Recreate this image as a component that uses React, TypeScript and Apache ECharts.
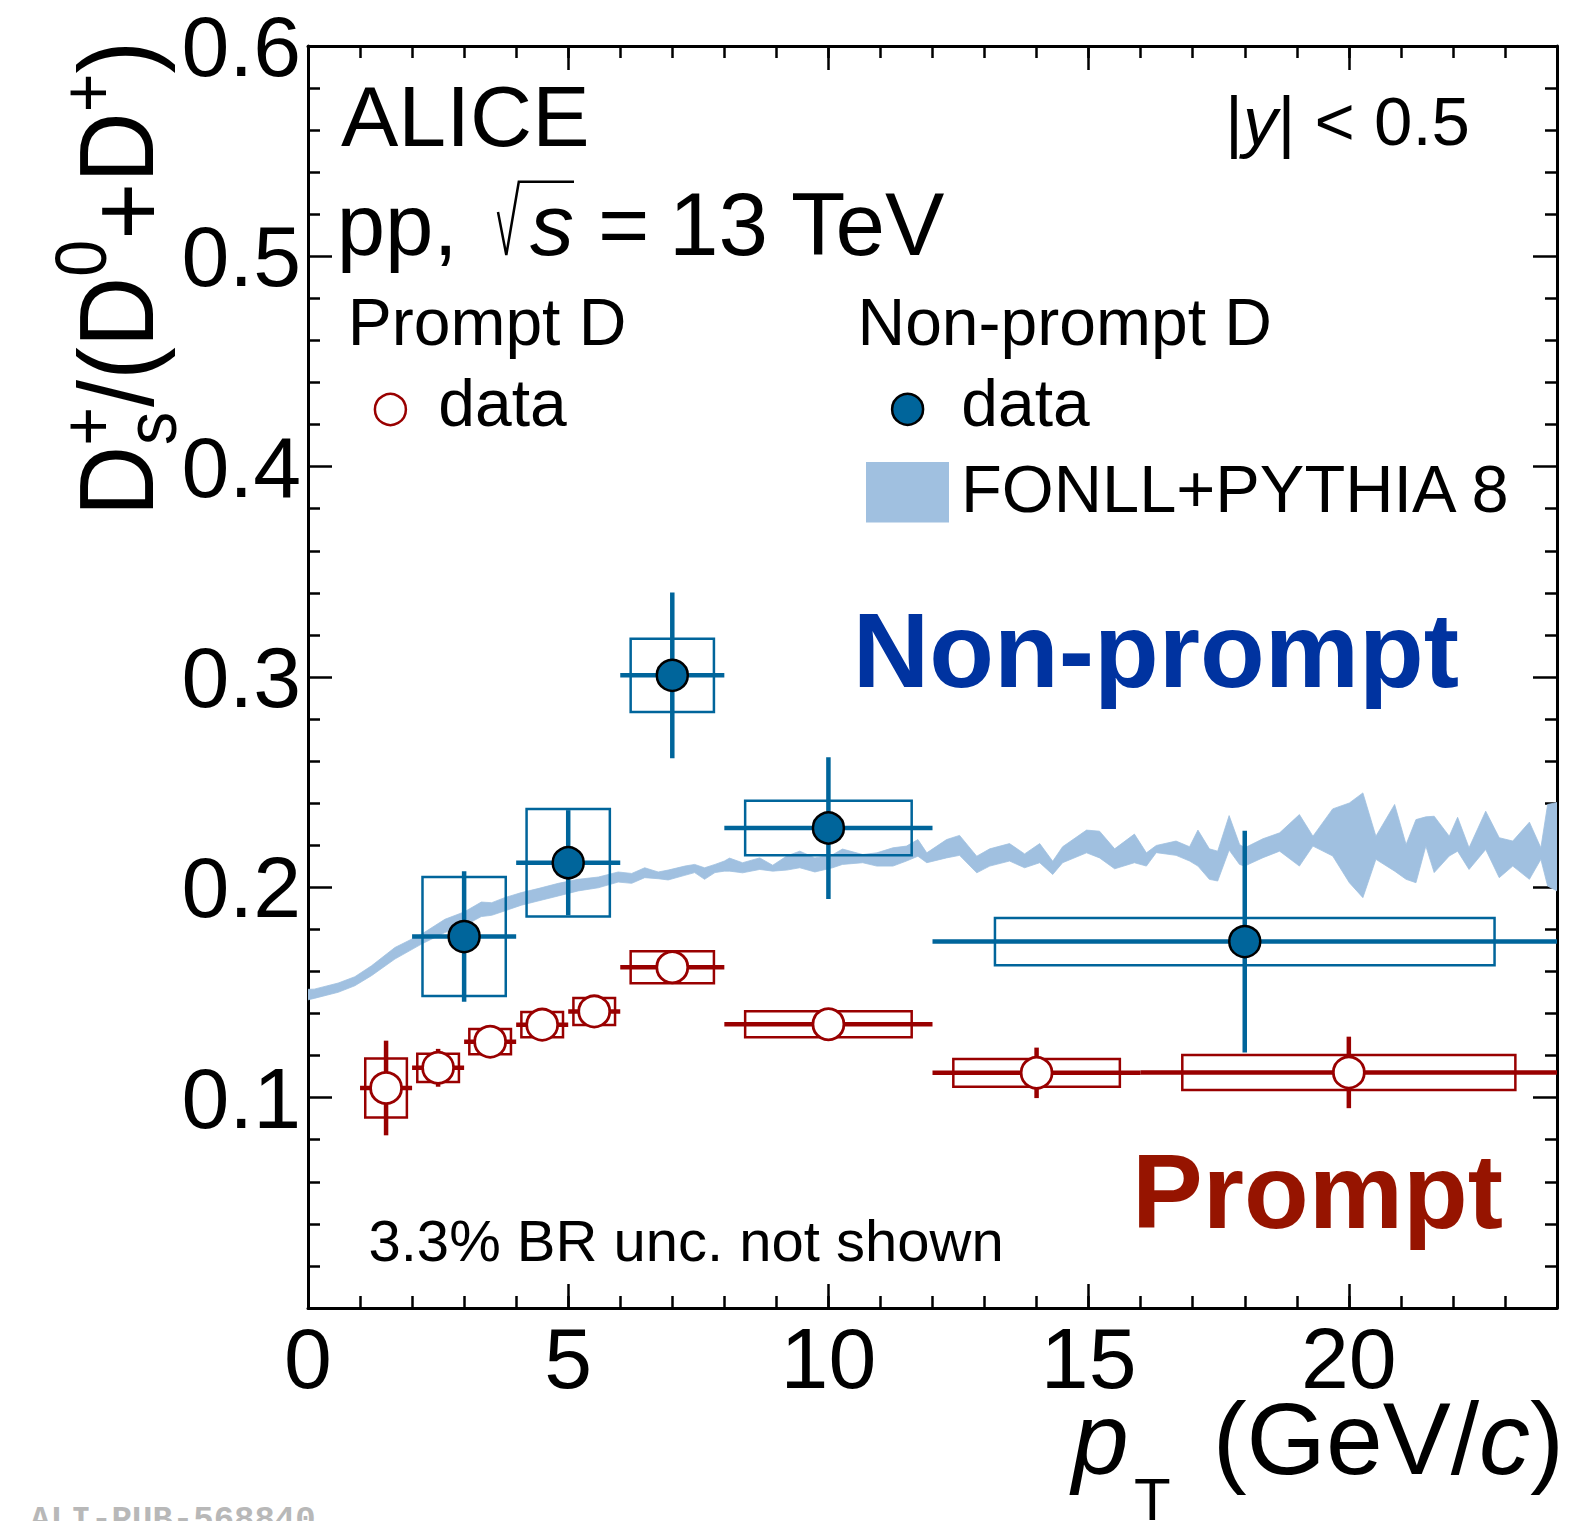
import React, { useEffect, useRef } from "react";
import * as echarts from "echarts";

const W = 1582;
const H = 1521;
const FONT = "'Liberation Sans', Arial, Helvetica, sans-serif";
const RED = "#990000";
const BLUE = "#00659b";
const BAND = "#a0c0e0";
const NP_TEXT = "#0033a0";
const P_TEXT = "#961400";

// ---- Prompt D data ----
const promptX = [1.5, 2.5, 3.5, 4.5, 5.5, 7, 10, 14, 20];
const promptXLow = [1, 2, 3, 4, 5, 6, 8, 12, 16];
const promptXHigh = [2, 3, 4, 5, 6, 8, 12, 16, 24];
const promptY = [0.1046, 0.1142, 0.1266, 0.1347, 0.141, 0.162, 0.1349, 0.1118, 0.112];
const promptStat = [0.0225, 0.009, 0.005, 0.005, 0.005, 0.005, 0.005, 0.012, 0.017];
const promptSyst = [0.014, 0.0067, 0.006, 0.006, 0.0064, 0.0076, 0.0062, 0.0066, 0.0083];

// ---- Non-prompt D data ----
const nonPromptX = [3, 5, 7, 10, 18];
const nonPromptXLow = [2, 4, 6, 8, 12];
const nonPromptXHigh = [4, 6, 8, 12, 24];
const nonPromptY = [0.1766, 0.2117, 0.3008, 0.2282, 0.1742];
const nonPromptStat = [0.031, 0.025, 0.0394, 0.0337, 0.0527];
const nonPromptSyst = [0.0283, 0.0256, 0.0174, 0.013, 0.0112];

// ---- FONLL+PYTHIA 8 band ----
const bandX = [0, 0.12, 0.58, 0.9, 1.22, 1.67, 2.18, 2.63, 3.0, 3.33, 3.53, 3.78, 4.1, 4.42, 4.81, 5.19, 5.58, 5.96, 6.22, 6.47, 6.73, 6.92, 7.24, 7.43, 7.62, 7.82, 8.0, 8.1, 8.35, 8.68, 8.93, 9.2, 9.45, 9.74, 10.08, 10.27, 10.66, 10.93, 11.24, 11.5, 11.72, 11.89, 12.27, 12.52, 12.85, 13.1, 13.48, 13.77, 14.06, 14.31, 14.5, 14.96, 15.21, 15.5, 15.88, 16.11, 16.3, 16.68, 16.94, 17.1, 17.32, 17.48, 17.7, 17.9, 18.0, 18.35, 18.67, 19.05, 19.31, 19.69, 20.01, 20.27, 20.52, 20.88, 21.1, 21.29, 21.48, 21.64, 21.93, 22.09, 22.31, 22.63, 22.89, 23.15, 23.47, 23.69, 23.82, 24.0];
const bandLow = [0.1465, 0.1472, 0.1501, 0.1532, 0.158, 0.1659, 0.173, 0.1785, 0.1817, 0.1861, 0.1867, 0.1888, 0.1915, 0.1935, 0.1959, 0.1983, 0.1998, 0.2025, 0.2019, 0.2046, 0.2041, 0.2035, 0.2057, 0.207, 0.2038, 0.207, 0.2077, 0.2077, 0.2069, 0.2085, 0.2077, 0.2082, 0.2093, 0.2073, 0.2093, 0.2109, 0.2117, 0.2101, 0.2101, 0.2125, 0.2148, 0.2117, 0.214, 0.2152, 0.2069, 0.2101, 0.2125, 0.2093, 0.2117, 0.2061, 0.2117, 0.2164, 0.214, 0.2088, 0.2117, 0.2101, 0.2165, 0.2152, 0.2125, 0.2101, 0.2038, 0.203, 0.2177, 0.2109, 0.2101, 0.2141, 0.2172, 0.2101, 0.2196, 0.2149, 0.2022, 0.1951, 0.2133, 0.2077, 0.2038, 0.2022, 0.2196, 0.207, 0.2149, 0.2172, 0.2085, 0.218, 0.2046, 0.2101, 0.2038, 0.2133, 0.2006, 0.1983];
const bandHigh = [0.1515, 0.1516, 0.1545, 0.1575, 0.1627, 0.1714, 0.1777, 0.1848, 0.1883, 0.193, 0.1927, 0.1951, 0.1975, 0.1994, 0.2019, 0.2038, 0.2049, 0.2073, 0.2066, 0.2093, 0.2073, 0.2082, 0.2101, 0.2109, 0.2093, 0.2109, 0.2125, 0.2139, 0.2117, 0.214, 0.2105, 0.2149, 0.2172, 0.214, 0.2155, 0.2182, 0.2156, 0.2164, 0.2188, 0.2196, 0.2227, 0.2164, 0.2227, 0.2247, 0.2148, 0.2183, 0.2208, 0.2159, 0.2208, 0.2124, 0.2193, 0.2272, 0.2267, 0.2183, 0.2253, 0.2164, 0.2199, 0.222, 0.2193, 0.2272, 0.2183, 0.2172, 0.2341, 0.2204, 0.2188, 0.2231, 0.2259, 0.2346, 0.2243, 0.2373, 0.2401, 0.2449, 0.2243, 0.2394, 0.2204, 0.2322, 0.2335, 0.2338, 0.2243, 0.2333, 0.2188, 0.2362, 0.2236, 0.222, 0.231, 0.2188, 0.2394, 0.2403];

// ---- axes ----
const xMin = 0;
const xMax = 24;
const xMajor = 5;
const xMinor = 1;
const yMin = 0;
const yMax = 0.6;
const yMajor = 0.1;

function T(x: number, base: number, text: string, size: number, extra: any = {}) {
  return {
    type: "text",
    x,
    y: base - 0.35 * size,
    silent: true,
    z: 50,
    style: {
      text,
      fontSize: size,
      fontFamily: FONT,
      fill: "#000",
      align: "left",
      textAlign: "left",
      verticalAlign: "middle",
      textVerticalAlign: "middle",
      ...extra,
    },
  };
}

function makeErrRender(color: string) {
  return (params: any, api: any) => {
    const x = api.value(0);
    const y = api.value(1);
    const xl = api.value(2);
    const xh = api.value(3);
    const st = api.value(4);
    const sy = api.value(5);
    const half = 0.4 * (xh - xl);
    const a = api.coord([x - half, y + sy]);
    const b = api.coord([x + half, y - sy]);
    const l = api.coord([xl, y]);
    const r = api.coord([xh, y]);
    const t = api.coord([x, y + st]);
    const d = api.coord([x, y - st]);
    return {
      type: "group",
      children: [
        { type: "rect", shape: { x: a[0], y: a[1], width: b[0] - a[0], height: b[1] - a[1] }, style: { fill: "none", stroke: color, lineWidth: 2.5 } },
        { type: "line", shape: { x1: l[0], y1: l[1], x2: r[0], y2: r[1] }, style: { stroke: color, lineWidth: 4.5 } },
        { type: "line", shape: { x1: t[0], y1: t[1], x2: d[0], y2: d[1] }, style: { stroke: color, lineWidth: 4.5 } },
      ],
    };
  };
}

function xAxisDef(position: string, major: boolean) {
  return {
    type: "value",
    position,
    min: xMin,
    max: xMax,
    interval: major ? xMajor : xMinor,
    axisLine: { show: major, onZero: false, lineStyle: { color: "#000", width: 3 } },
    axisTick: { show: true, inside: true, length: major ? 24 : 12, lineStyle: { color: "#000", width: 2.5 } },
    axisLabel: {
      show: major && position === "bottom",
      fontSize: 86,
      fontFamily: FONT,
      color: "#000",
      margin: 7,
      showMaxLabel: false,
      formatter: (v: number) => (v % 5 === 0 ? String(v) : ""),
    },
    splitLine: { show: false },
  };
}

function yAxisDef(position: string) {
  return {
    type: "value",
    position,
    min: yMin,
    max: yMax,
    interval: yMajor,
    axisLine: { show: true, onZero: false, lineStyle: { color: "#000", width: 3 } },
    axisTick: { show: true, inside: true, length: 24, lineStyle: { color: "#000", width: 2.5 } },
    minorTick: { show: true, splitNumber: 5, length: 12, lineStyle: { color: "#000", width: 2.5 } },
    axisLabel: {
      show: position === "left",
      fontSize: 86,
      fontFamily: FONT,
      color: "#000",
      margin: 7,
      formatter: (v: number) => (Math.abs(v) < 1e-9 ? "" : v.toFixed(1)),
    },
    splitLine: { show: false },
    minorSplitLine: { show: false },
  };
}

function buildOption() {
  const F = 100;
  const S = 68;
  const yTitle = {
    type: "group",
    x: 152.7,
    y: 516.3,
    rotation: Math.PI / 2,
    scaleX: 0.977,
    scaleY: 1.05,
    children: [
      T(0, 0, "D", F),
      T(73, 23, "s", S),
      T(72.2, -38, "+", S),
      T(111.9, 0, "/", F),
      T(139.7, 0, "(", F),
      T(173, 0, "D", F),
      T(245.2, -44, "0", S),
      T(283, 10, "+", F),
      T(341.4, 0, "D", F),
      T(413.6, -38, "+", S),
      T(453.3, 0, ")", F),
    ],
  };

  const graphics: any[] = [
    T(341, 146, "ALICE", 86),
    T(336.7, 255, "pp,", 87),
    {
      type: "polyline",
      silent: true,
      z: 50,
      shape: { points: [[498, 212], [506.3, 255], [518.8, 181.7], [574, 181.7]] },
      style: { stroke: "#000", lineWidth: 2.5, fill: null },
    },
    T(530, 255, "s", 88, { fontStyle: "italic" }),
    T(598, 255, "=", 88),
    T(669, 255, "13 TeV", 89),
    {
      type: "text",
      x: 1470,
      y: 146 - 0.35 * 69,
      silent: true,
      z: 50,
      style: {
        text: "{n||}{i|y}{n|| < 0.5}",
        fontSize: 69,
        fontFamily: FONT,
        fill: "#000",
        align: "right",
        textAlign: "right",
        verticalAlign: "middle",
        textVerticalAlign: "middle",
        rich: {
          n: { fontSize: 69, fontFamily: FONT, fill: "#000" },
          i: { fontSize: 69, fontFamily: FONT, fill: "#000", fontStyle: "italic" },
        },
      },
    },
    T(347.7, 345, "Prompt D", 66),
    T(857.5, 345, "Non-prompt D", 66),
    {
      type: "circle",
      silent: true,
      z: 50,
      shape: { cx: 390.4, cy: 409.5, r: 15.5 },
      style: { fill: "#fff", stroke: RED, lineWidth: 2.5 },
    },
    T(438.3, 426, "data", 66),
    {
      type: "circle",
      silent: true,
      z: 50,
      shape: { cx: 907.6, cy: 409.3, r: 15.5 },
      style: { fill: BLUE, stroke: "#000", lineWidth: 2.5 },
    },
    T(961.3, 426, "data", 66),
    {
      type: "rect",
      silent: true,
      z: 50,
      shape: { x: 866, y: 462, width: 83, height: 60.5 },
      style: { fill: BAND },
    },
    T(961, 512.6, "FONLL+PYTHIA 8", 66.8),
    T(852.7, 686.7, "Non-prompt", 106, { fontWeight: "bold", fill: NP_TEXT }),
    T(1132, 1227.7, "Prompt", 106, { fontWeight: "bold", fill: P_TEXT }),
    T(368.5, 1261, "3.3% BR unc. not shown", 58),
    yTitle,
    T(1072, 1475, "p", 102, { fontStyle: "italic" }),
    T(1134, 1520, "T", 60),
    {
      type: "text",
      x: 1564,
      y: 1475 - 0.35 * 102,
      silent: true,
      z: 50,
      style: {
        text: "{n|(GeV/}{i|c}{n|)}",
        fontSize: 102,
        fontFamily: FONT,
        fill: "#000",
        align: "right",
        textAlign: "right",
        verticalAlign: "middle",
        textVerticalAlign: "middle",
        rich: {
          n: { fontSize: 102, fontFamily: FONT, fill: "#000" },
          i: { fontSize: 102, fontFamily: FONT, fill: "#000", fontStyle: "italic" },
        },
      },
    },
    T(30, 1532, "ALI-PUB-568840", 34, { fill: "#b8b8b8", fontFamily: "'Liberation Mono', 'DejaVu Sans Mono', monospace", fontWeight: "bold" }),
  ];

  return {
    animation: false,
    backgroundColor: "#fff",
    grid: { left: 308, top: 46, right: W - 1557, bottom: H - 1308, containLabel: false, outerBoundsMode: "none" },
    xAxis: [xAxisDef("bottom", true), xAxisDef("bottom", false), xAxisDef("top", true), xAxisDef("top", false)],
    yAxis: [yAxisDef("left"), yAxisDef("right")],
    series: [
      {
        type: "custom",
        name: "FONLL+PYTHIA 8",
        xAxisIndex: 0,
        yAxisIndex: 0,
        z: 1,
        silent: true,
        clip: true,
        data: [[bandX[0], bandLow[0], bandHigh[0]]],
        renderItem: (params: any, api: any) => {
          const upper = bandX.map((x, i) => api.coord([x, bandHigh[i]]));
          const lower = bandX.map((x, i) => api.coord([x, bandLow[i]])).reverse();
          return {
            type: "polygon",
            shape: { points: [...upper, ...lower] },
            style: { fill: BAND, stroke: BAND, lineWidth: 0.8 },
          };
        },
      },
      {
        type: "custom",
        name: "prompt-err",
        xAxisIndex: 0,
        yAxisIndex: 0,
        z: 2,
        silent: true,
        clip: true,
        encode: { x: 0, y: 1 },
        data: promptX.map((x, i) => [x, promptY[i], promptXLow[i], promptXHigh[i], promptStat[i], promptSyst[i]]),
        renderItem: makeErrRender(RED),
      },
      {
        type: "custom",
        name: "nonprompt-err",
        xAxisIndex: 0,
        yAxisIndex: 0,
        z: 2,
        silent: true,
        clip: true,
        encode: { x: 0, y: 1 },
        data: nonPromptX.map((x, i) => [x, nonPromptY[i], nonPromptXLow[i], nonPromptXHigh[i], nonPromptStat[i], nonPromptSyst[i]]),
        renderItem: makeErrRender(BLUE),
      },
      {
        type: "scatter",
        name: "prompt",
        xAxisIndex: 0,
        yAxisIndex: 0,
        z: 3,
        silent: true,
        symbol: "circle",
        symbolSize: 31,
        itemStyle: { color: "#fff", borderColor: RED, borderWidth: 2.8, opacity: 1 },
        data: promptX.map((x, i) => [x, promptY[i]]),
      },
      {
        type: "scatter",
        name: "nonprompt",
        xAxisIndex: 0,
        yAxisIndex: 0,
        z: 3,
        silent: true,
        symbol: "circle",
        symbolSize: 31,
        itemStyle: { color: BLUE, borderColor: "#000", borderWidth: 2.5, opacity: 1 },
        data: nonPromptX.map((x, i) => [x, nonPromptY[i]]),
      },
    ],
    graphic: { elements: graphics },
  };
}

export default function App() {
  const ref = useRef<HTMLDivElement>(null);
  useEffect(() => {
    if (!ref.current) return;
    const chart = echarts.init(ref.current, undefined, { renderer: "svg", width: W, height: H });
    chart.setOption(buildOption() as any);
    return () => {
      chart.dispose();
    };
  }, []);
  return (
    <div
      ref={ref}
      style={{ position: "fixed", left: 0, top: 0, width: W, height: H, background: "#fff" }}
    />
  );
}
